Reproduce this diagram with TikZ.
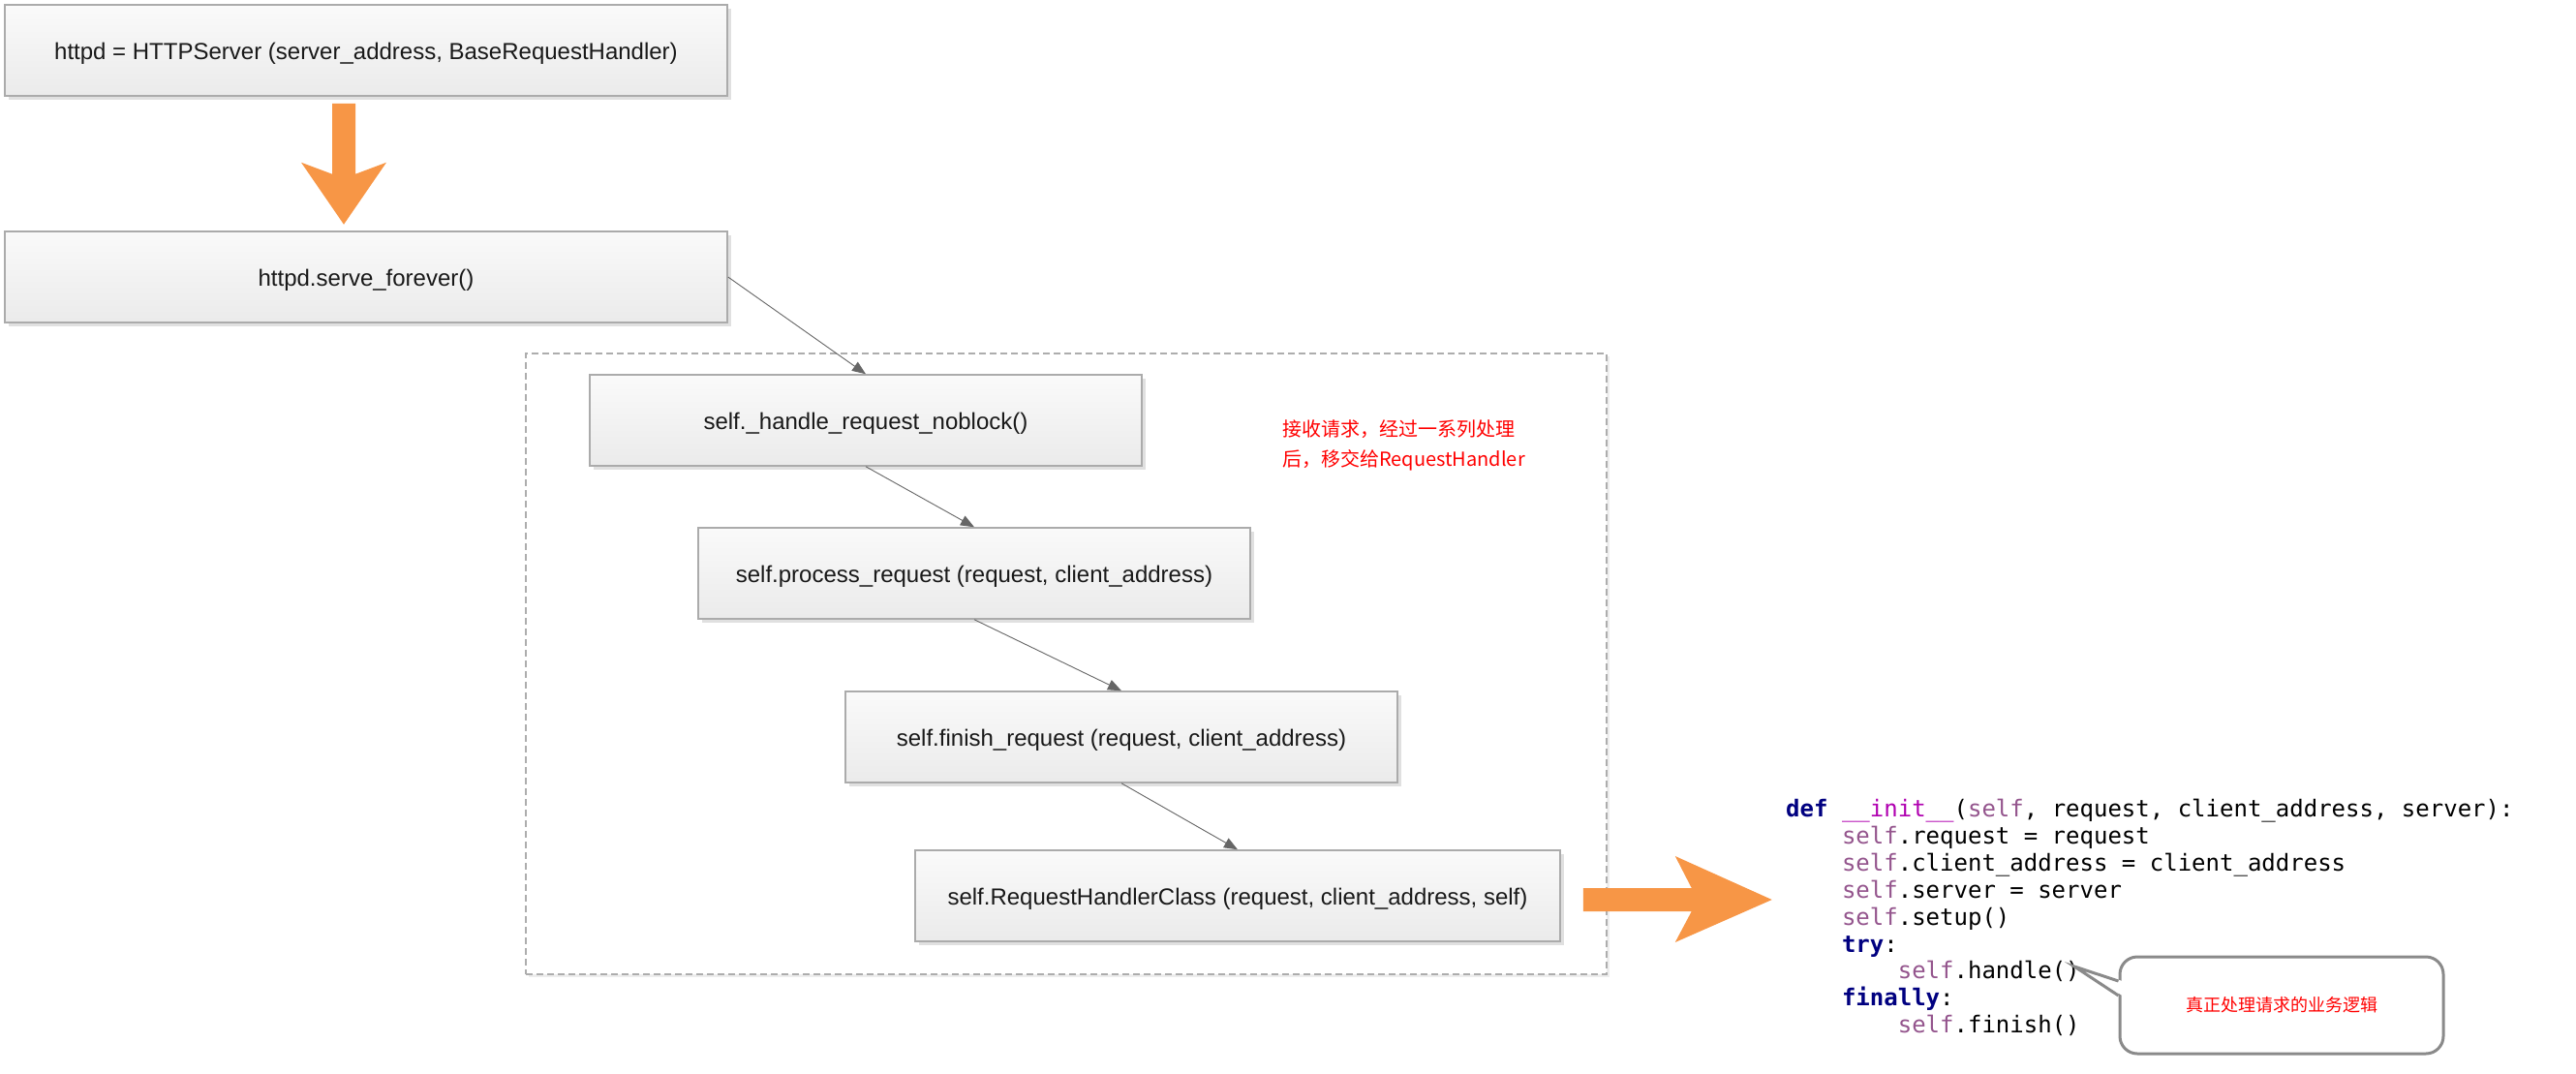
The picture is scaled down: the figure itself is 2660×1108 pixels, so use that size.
\documentclass[tikz,border=0pt]{standalone}
\usepackage{fontspec}
\setmainfont{Liberation Sans}
\newfontfamily\cjk{Noto Sans CJK SC}
\newfontfamily\mono{DejaVu Sans Mono}
\usetikzlibrary{arrows.meta,shadows,calc}
\definecolor{boxline}{HTML}{ABABAB}
\definecolor{bigarrow}{HTML}{F79646}
\definecolor{kwblue}{HTML}{000080}
\definecolor{magic}{HTML}{B000B0}
\definecolor{selfpurple}{HTML}{94558D}
\definecolor{bubbleline}{HTML}{8A8A8A}
\newcommand\pyind{\hphantom{xxxx}}
\newcommand\pyself{{\color{selfpurple}self}}
\tikzset{
  callbox/.style={
    draw=boxline, line width=1.5pt, top color=black!2, bottom color=black!8,
    minimum width=#1, minimum height=94pt, inner sep=0pt,
    text height=22pt, text depth=3pt,
    font=\fontsize{24}{28}\selectfont, text=black!90,
    drop shadow={shadow xshift=4pt, shadow yshift=-4pt, fill=black!12, opacity=1}
  },
  callbox/.default=570pt,
  groupbox/.style={
    draw=black!32, line width=1.6pt, dash pattern=on 7pt off 4pt, fill=white,
    drop shadow={shadow xshift=3pt, shadow yshift=-3pt, fill=black!7, opacity=1}
  },
  flow/.style={draw=black!60, line width=0.9pt, -{Triangle[length=14pt,width=11pt]}},
  fatarrow/.style={fill=bigarrow},
  rednote/.style={text=red, font=\cjk\fontsize{20}{31}\selectfont, align=left, inner sep=0pt},
  pycode/.style={font=\mono\fontsize{24}{27.9}\selectfont, align=left, inner sep=0pt},
  bubble/.style={
    draw=bubbleline, line width=3pt, rounded corners=18pt, fill=white,
    minimum width=334pt, minimum height=100pt, text=red,
    font=\cjk\fontsize{18}{22}\selectfont
  },
  bubbletail/.style={draw=bubbleline, line width=3pt, line join=miter}
}
\begin{document}
\begin{tikzpicture}[x=1pt, y=-1pt]
\useasboundingbox (0,0) rectangle (2660,1108);

\node[groupbox, minimum width=1116pt, minimum height=641pt] (group) at (1101,685.5) {};

\node[callbox=746pt] (server) at (378,52) {httpd = HTTPServer (server\_address, BaseRequestHandler)};
\node[callbox=746pt] (serve) at (378,286) {httpd.serve\_forever()};
\node[callbox] (noblock) at (894,434) {self.\_handle\_request\_noblock()};
\node[callbox] (process) at (1006,592) {self.process\_request (request, client\_address)};
\node[callbox] (finish) at (1158,761) {self.finish\_request (request, client\_address)};
\node[callbox=666pt] (handler) at (1278,925) {self.RequestHandlerClass (request, client\_address, self)};

\node[rednote, anchor=west] (recvnote) at (1324,460) {接收请求，经过一系列处理\\后，移交给RequestHandler};

% fat orange arrows
\fill[fatarrow] ($(server.south)+(-35,7)$) -- ++(24,0) -- ++(0,73) -- ++(32,-12)
  -- ++(-44,64) -- ++(-44,-64) -- ++(32,12) -- cycle;
\fill[fatarrow] ($(handler.east)+(23,-8)$) -- ++(112,0) -- ++(-17,-33) -- ++(100,45)
  -- ++(-100,44) -- ++(17,-32) -- ++(-112,0) -- cycle;

\draw[flow] (serve.east) -- (noblock.north);
\draw[flow] (noblock.south) -- (process.north);
\draw[flow] (process.south) -- (finish.north);
\draw[flow] (finish.south) -- (handler.north);

\node[pycode, anchor=north west] (initcode) at (1844,825) {%
{\bfseries\color{kwblue}def} {\color{magic}\_\_init\_\_}(\pyself, request, client\_address, server):\\
\pyind\pyself.request = request\\
\pyind\pyself.client\_address = client\_address\\
\pyind\pyself.server = server\\
\pyind\pyself.setup()\\
\pyind{\bfseries\color{kwblue}try}:\\
\pyind\pyind\pyself.handle()\\
\pyind{\bfseries\color{kwblue}finally}:\\
\pyind\pyind\pyself.finish()};

\coordinate (handletip) at (2142,998);
\node[bubble] (bizlogic) at (2356,1038) {真正处理请求的业务逻辑};
\fill[white] (handletip) -- ($(bizlogic.west)+(4,-25)$) -- ($(bizlogic.west)+(4,-10)$) -- cycle;
\draw[bubbletail] ($(bizlogic.west)+(0,-25)$) -- (handletip) -- ($(bizlogic.west)+(0,-10)$);
\end{tikzpicture}
\end{document}
